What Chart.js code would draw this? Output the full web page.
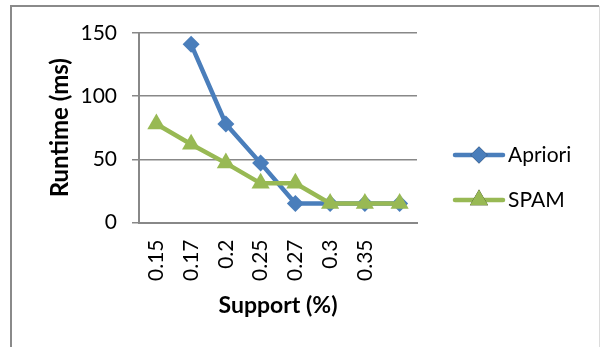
<!DOCTYPE html>
<html>
<head>
<meta charset="utf-8">
<script src="https://cdn.jsdelivr.net/npm/chart.js@4/dist/chart.umd.min.js"></script>
<style>
html,body{margin:0;padding:0;background:#fff;}
#wrap{position:relative;width:600px;height:347px;overflow:hidden;}
canvas{display:block;}
</style>
</head>
<body>
<div id="wrap"><canvas id="c" width="600" height="347"></canvas></div>
<script>
const categories = ['0.15','0.17','0.2','0.25','0.27','0.3','0.35',''];
const aprioriValues = [null,141,78,47,15,15,15,15];
const spamValues = [78,62,47,31,31,15,15,15];
const yTicks = [0,50,100,150];
const seriesNames = ['Apriori','SPAM'];

const BLUE = '#4a7ebb';
const GREEN = '#98b954';
const GRID = '#888888';

const framePlugin = {
  id: 'frame',
  beforeDraw(chart) {
    const ctx = chart.ctx;
    ctx.save();
    ctx.fillStyle = '#ffffff';
    ctx.fillRect(0, 0, chart.width, chart.height);
    ctx.strokeStyle = '#8a8a8a';
    ctx.lineWidth = 2;
    ctx.beginPath();
    ctx.moveTo(11, 360); ctx.lineTo(11, 6); ctx.lineTo(599, 6);
    ctx.stroke();
    ctx.strokeStyle = '#dcdcdc';
    ctx.lineWidth = 1;
    ctx.beginPath();
    ctx.moveTo(599.5, 6); ctx.lineTo(599.5, 360);
    ctx.stroke();
    ctx.restore();
  }
};

const legendPlugin = {
  id: 'customLegend',
  afterDraw(chart) {
    const ctx = chart.ctx;
    const rows = [155, 200];
    ctx.save();
    chart.data.datasets.forEach((ds, i) => {
      const y = rows[i];
      ctx.strokeStyle = ds.borderColor;
      ctx.lineWidth = ds.borderWidth;
      ctx.lineCap = 'round';
      ctx.beginPath();
      ctx.moveTo(455, y); ctx.lineTo(503, y);
      ctx.stroke();
      Chart.helpers.drawPoint(ctx, {
        pointStyle: ds.pointStyle, radius: ds.pointRadius, borderWidth: 0, rotation: 0
      }, 479, y);
      ctx.fillStyle = ds.backgroundColor;
      ctx.fill();
      ctx.fillStyle = '#000';
      ctx.font = '21px Lato';
      ctx.textBaseline = 'middle';
      ctx.textAlign = 'left';
      ctx.fillText(ds.label, 508, y);
    });
    ctx.restore();
  }
};

new Chart(document.getElementById('c'), {
  type: 'line',
  data: {
    labels: categories,
    datasets: [
      {
        label: seriesNames[0], data: aprioriValues,
        borderColor: BLUE, backgroundColor: BLUE, borderWidth: 4.5,
        pointStyle: 'rectRot', pointRadius: 8.5, pointBorderWidth: 0,
        pointBackgroundColor: BLUE, tension: 0, order: 1, spanGaps: false
      },
      {
        label: seriesNames[1], data: spamValues,
        borderColor: GREEN, backgroundColor: GREEN, borderWidth: 4.5,
        pointStyle: 'triangle', pointRadius: 10.5, pointBorderWidth: 0,
        pointBackgroundColor: GREEN, tension: 0, order: 0
      }
    ]
  },
  options: {
    responsive: false,
    animation: false,
    devicePixelRatio: 1,
    layout: { padding: { left: 0, top: 33, right: 183, bottom: 0 } },
    plugins: { legend: { display: false }, tooltip: { enabled: false } },
    scales: {
      x: {
        offset: true,
        grid: { display: false, drawTicks: false },
        border: { display: true, color: GRID, width: 2 },
        ticks: {
          minRotation: 90, maxRotation: 90, padding: 17,
          color: '#000', font: { family: 'Lato', size: 21 }, autoSkip: false
        },
        title: {
          display: true, text: 'Support (%)', color: '#000',
          font: { family: 'Lato', size: 23, weight: 'bold' },
          padding: { top: 0, bottom: 28 }
        },
        afterFit(s) { s.height = 124.5; }
      },
      y: {
        min: 0, max: 150,
        afterBuildTicks(s) { s.ticks = yTicks.map(v => ({ value: v })); },
        grid: { color: GRID, lineWidth: 1.5, tickLength: 7, drawTicks: true },
        border: { display: true, color: GRID, width: 2 },
        ticks: { padding: 15, color: '#000', font: { family: 'Lato', size: 21 } },
        title: {
          display: true, text: 'Runtime (ms)', color: '#000',
          font: { family: 'Lato', size: 24, weight: 'bold' },
          padding: { top: 46, bottom: 0 }
        },
        afterFit(s) { s.width = 139; }
      }
    }
  },
  plugins: [framePlugin, legendPlugin]
});
</script>
</body>
</html>
